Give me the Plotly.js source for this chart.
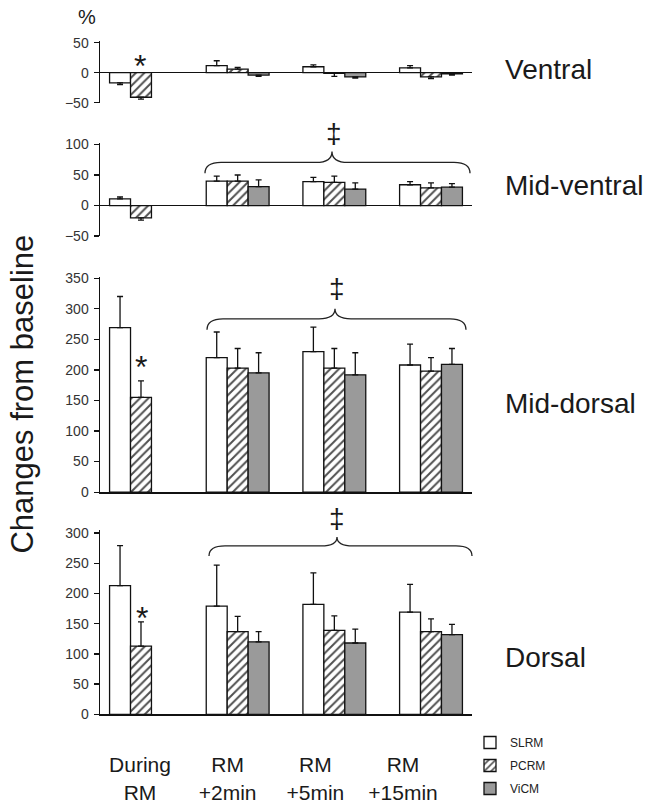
<!DOCTYPE html>
<html>
<head>
<meta charset="utf-8">
<script src="https://cdn.plot.ly/plotly-3.0.1.min.js"></script>
<style>html,body{margin:0;padding:0;background:#fff;}</style>
</head>
<body>
<div id="chart" style="width:659px;height:803px;"></div>
<script>
// ---------- data ----------
const categories = ["During<br>RM", "RM<br>+2min", "RM<br>+5min", "RM<br>+15min"];
const seriesNames = ["SLRM", "PCRM", "ViCM"];
const panelNames = ["Ventral", "Mid-ventral", "Mid-dorsal", "Dorsal"];

// Ventral
const ventralSLRM = [-17, 12, 10, 8];
const ventralSLRMerr = [3, 8, 3, 4];
const ventralPCRM = [-41, 6, -1, -7];
const ventralPCRMerr = [3, 3, 5, 3];
const ventralViCM = [null, -4, -7, -2];
const ventralViCMerr = [null, 2, 2, 2];

// Mid-ventral
const midVentralSLRM = [11, 40, 39, 34];
const midVentralSLRMerr = [3, 8, 7, 5];
const midVentralPCRM = [-20, 40, 38, 29];
const midVentralPCRMerr = [4, 10, 10, 8];
const midVentralViCM = [null, 31, 27, 30];
const midVentralViCMerr = [null, 11, 10, 6];

// Mid-dorsal
const midDorsalSLRM = [269, 220, 230, 208];
const midDorsalSLRMerr = [51, 42, 40, 34];
const midDorsalPCRM = [155, 203, 203, 198];
const midDorsalPCRMerr = [27, 32, 32, 22];
const midDorsalViCM = [null, 195, 192, 209];
const midDorsalViCMerr = [null, 33, 36, 26];

// Dorsal
const dorsalSLRM = [213, 179, 182, 169];
const dorsalSLRMerr = [66, 68, 52, 46];
const dorsalPCRM = [113, 137, 139, 137];
const dorsalPCRMerr = [40, 25, 24, 21];
const dorsalViCM = [null, 120, 118, 132];
const dorsalViCMerr = [null, 17, 23, 17];

// ---------- build ----------
const W = 659, H = 803;
const fx = p => p / W;
const fy = p => 1 - p / H;

const panels = [
  [ventralSLRM, ventralSLRMerr, ventralPCRM, ventralPCRMerr, ventralViCM, ventralViCMerr],
  [midVentralSLRM, midVentralSLRMerr, midVentralPCRM, midVentralPCRMerr, midVentralViCM, midVentralViCMerr],
  [midDorsalSLRM, midDorsalSLRMerr, midDorsalPCRM, midDorsalPCRMerr, midDorsalViCM, midDorsalViCMerr],
  [dorsalSLRM, dorsalSLRMerr, dorsalPCRM, dorsalPCRMerr, dorsalViCM, dorsalViCMerr]
];

const markers = [
  {color: "#ffffff", line: {color: "#111", width: 1.3}},
  {color: "#ffffff", line: {color: "#111", width: 1.3},
   pattern: {shape: "/", fgcolor: "#505050", bgcolor: "#ffffff", size: 6, solidity: 0.33}},
  {color: "#9a9a9a", line: {color: "#111", width: 1.3}}
];

const traces = [];
panels.forEach((p, i) => {
  const ax = i === 0 ? "" : String(i + 1);
  for (let s = 0; s < 3; s++) {
    const vals = p[2 * s], errs = p[2 * s + 1];
    traces.push({
      type: "bar",
      name: seriesNames[s],
      x: categories,
      y: vals,
      xaxis: "x" + ax,
      yaxis: "y" + ax,
      marker: markers[s],
      legendgroup: seriesNames[s],
      showlegend: i === 3,
      error_y: {
        type: "data", symmetric: false,
        array: vals.map((v, k) => (v !== null && v >= 0) ? errs[k] : 0),
        arrayminus: vals.map((v, k) => (v !== null && v < 0) ? errs[k] : 0),
        color: "#111", thickness: 1.3, width: 3
      },
      hoverinfo: "skip"
    });
  }
});
// label-only trace for category tick labels
traces.push({
  type: "scatter", mode: "markers", x: categories, y: categories.map(() => null),
  xaxis: "x5", yaxis: "y4", showlegend: false, hoverinfo: "skip"
});

const xDomain = [fx(100), fx(472)];
const tickFont = {family: "Liberation Sans, Arial, sans-serif", size: 14, color: "#333"};
function xax(showline) {
  return {
    domain: xDomain, type: "category", categoryorder: "array", categoryarray: categories,
    range: [-0.424, 3.424], showticklabels: false, ticks: "", showgrid: false, zeroline: false,
    showline: showline, linecolor: "#111", linewidth: 1.5, fixedrange: true
  };
}
function yax(dom, range, zl, anchor) {
  return {
    domain: [fy(dom[1]), fy(dom[0])], range: range, dtick: 50, anchor: anchor,
    showline: true, linecolor: "#111", linewidth: 1.5, ticks: "outside", ticklen: 5,
    tickwidth: 1.3, tickcolor: "#111", showgrid: false, zeroline: zl, zerolinecolor: "#111",
    zerolinewidth: 1.5, tickfont: tickFont, ticklabelstandoff: 2, fixedrange: true
  };
}

function brace(x0, x1, xm, yEnd, yLine, yPeak) {
  const r = 16;
  const P = (x, y) => fx(x) + "," + fy(y);
  return "M" + P(x0, yEnd) + " Q" + P(x0, yLine) + " " + P(x0 + r, yLine) +
    " L" + P(xm - r, yLine) + " Q" + P(xm, yLine) + " " + P(xm, yPeak) +
    " Q" + P(xm, yLine) + " " + P(xm + r, yLine) +
    " L" + P(x1 - r, yLine) + " Q" + P(x1, yLine) + " " + P(x1, yEnd);
}
const braceLine = {color: "#222", width: 1.3};
const shapes = [
  {type: "path", xref: "paper", yref: "paper", path: brace(205, 470, 332, 174, 163, 152), line: braceLine},
  {type: "path", xref: "paper", yref: "paper", path: brace(207, 466, 335, 331, 320, 310), line: braceLine},
  {type: "path", xref: "paper", yref: "paper", path: brace(209, 472, 337, 558, 548, 539), line: braceLine}
];

const txtFont = {family: "Liberation Sans, Arial, sans-serif", color: "#1a1a1a"};
const ann = (text, x, y, size, xanchor) => ({
  text: text, xref: "paper", yref: "paper", x: fx(x), y: fy(y), showarrow: false,
  xanchor: xanchor || "center", yanchor: "middle", font: Object.assign({}, txtFont, {size: size})
});
const panelTitleY = [70, 186, 405, 660];
const annotations = panelNames.map((n, i) => ann(n, 503, panelTitleY[i], 28, "left"));
annotations.push(ann("%", 87, 17, 20));
annotations.push(ann("*", 140, 66, 32));
annotations.push(ann("*", 141, 368, 32));
annotations.push(ann("*", 142, 620, 32));
annotations.push(ann("‡", 334, 134, 28));
annotations.push(ann("‡", 337, 290, 28));
annotations.push(ann("‡", 337, 520, 28));
annotations.push(Object.assign(ann("Changes from baseline", 23, 396, 31), {textangle: -90}));

const layout = {
  width: W, height: H,
  margin: {l: 0, r: 0, t: 0, b: 0},
  paper_bgcolor: "#fff", plot_bgcolor: "rgba(0,0,0,0)",
  barmode: "group", bargap: 0.35, bargroupgap: 0,
  font: {family: "Liberation Sans, Arial, sans-serif"},
  xaxis: Object.assign(xax(false), {anchor: "y"}),
  xaxis2: Object.assign(xax(false), {anchor: "y2"}),
  xaxis3: Object.assign(xax(true), {anchor: "y3"}),
  xaxis4: Object.assign(xax(true), {anchor: "y4"}),
  xaxis5: {
    overlaying: "x4", anchor: "y4", side: "bottom", type: "category",
    categoryorder: "array", categoryarray: categories, range: [-0.456, 3.787],
    showline: false, ticks: "", showgrid: false, zeroline: false,
    tickfont: {family: "Liberation Sans, Arial, sans-serif", size: 21, color: "#1a1a1a"},
    ticklabelstandoff: 36, fixedrange: true
  },
  yaxis: yax([41, 103], [-50, 53.3], true, "x"),
  yaxis2: yax([144, 237], [-50, 101.6], true, "x2"),
  yaxis3: yax([278, 494], [0, 352], false, "x3"),
  yaxis4: yax([532, 717], [0, 305], false, "x4"),
  showlegend: true,
  legend: {
    x: fx(470), y: fy(731), xanchor: "left", yanchor: "top",
    traceorder: "grouped", tracegroupgap: 4,
    font: {family: "Liberation Sans, Arial, sans-serif", size: 12, color: "#222"},
    bgcolor: "rgba(0,0,0,0)"
  },
  shapes: shapes,
  annotations: annotations
};

Plotly.newPlot("chart", traces, layout, {displayModeBar: false, staticPlot: true});
</script>
</body>
</html>
